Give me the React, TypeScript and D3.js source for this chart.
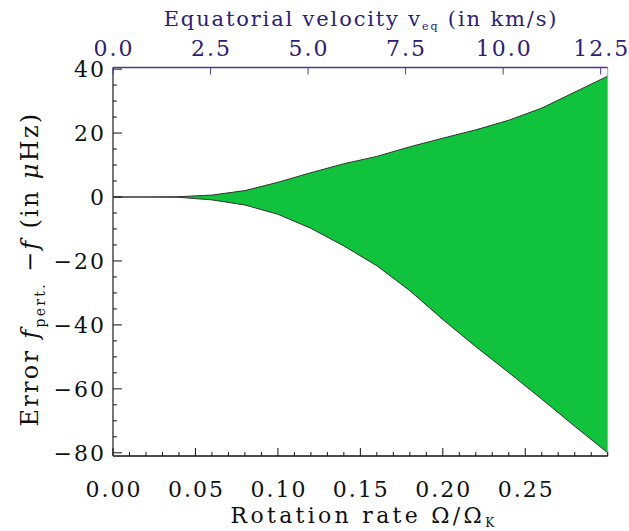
import React, { useEffect, useRef } from "react";
import * as d3 from "d3";

// rotation rate Omega/Omega_K
const rotation = [0, 0.02, 0.04, 0.06, 0.08, 0.1, 0.12, 0.14, 0.16, 0.18, 0.2, 0.22, 0.24, 0.26, 0.28, 0.3];
// error bounds in microHz
const upperErr = [0, 0.0, 0.1, 0.6, 2.0, 4.6, 7.6, 10.4, 12.7, 15.7, 18.4, 21.0, 24.0, 27.8, 32.8, 37.8];
const lowerErr = [0, 0.0, -0.1, -0.9, -2.5, -5.4, -9.8, -15.3, -21.5, -29.3, -38.3, -46.8, -54.9, -63.2, -71.7, -80.0];

const bottomTicks = [0, 0.05, 0.1, 0.15, 0.2, 0.25];
const bottomMinor = d3.range(0, 0.3001, 0.01);
const leftTicks = [-80, -60, -40, -20, 0, 20, 40];
const leftMinor = d3.range(-80, 41, 5);
const topTicks = [0, 2.5, 5, 7.5, 10, 12.5];

const FONT = "'DejaVu Serif', serif";
const PURPLE = "#2e2175";
const NUM_SIZE = 22;
const NUM_LS = 2;

const App = () => {
  const ref = useRef<SVGSVGElement>(null);

  useEffect(() => {
    const width = 629;
    const height = 531;
    const margin = { top: 67.5, left: 113, bottom: 75, right: 21.3 };

    const svg = d3.select(ref.current).attr("width", width).attr("height", height);
    svg.selectAll("*").remove();

    const x = d3.scaleLinear().domain([0, 0.3]).range([margin.left, width - margin.right]);
    const y = d3.scaleLinear().domain([-81, 40.5]).range([height - margin.bottom, margin.top]);
    const xTop = d3.scaleLinear().domain([0, 12.68]).range([margin.left, width - margin.right]);

    const data = rotation.map((r, i) => ({ r, hi: upperErr[i], lo: lowerErr[i] }));

    // filled band
    const area = d3
      .area<any>()
      .x((d) => x(d.r))
      .y0((d) => y(d.lo))
      .y1((d) => y(d.hi));
    svg.append("path").datum(data).attr("d", area).attr("fill", "#10c23c");

    const lineHi = d3.line<any>().x((d) => x(d.r)).y((d) => y(d.hi));
    const lineLo = d3.line<any>().x((d) => x(d.r)).y((d) => y(d.lo));
    svg.append("path").datum(data).attr("d", lineHi).attr("fill", "none").attr("stroke", "#333").attr("stroke-width", 1);
    svg.append("path").datum(data).attr("d", lineLo).attr("fill", "none").attr("stroke", "#333").attr("stroke-width", 1);

    const [x0, x1] = x.range();
    const [yb, yt] = y.range();

    // frame
    svg.append("line").attr("x1", x1).attr("x2", x1).attr("y1", yt).attr("y2", yb).attr("stroke", "#aaa").attr("stroke-width", 1);
    svg.append("line").attr("x1", x0).attr("x2", x1).attr("y1", yt).attr("y2", yt).attr("stroke", "#4a3b8f").attr("stroke-width", 1.5);
    svg.append("line").attr("x1", x0).attr("x2", x1).attr("y1", yb).attr("y2", yb).attr("stroke", "#111").attr("stroke-width", 1.5);
    svg.append("line").attr("x1", x0).attr("x2", x0).attr("y1", yt).attr("y2", yb).attr("stroke", "#777").attr("stroke-width", 2);

    // bottom axis ticks
    const gB = svg.append("g");
    gB.selectAll("line.minor")
      .data(bottomMinor)
      .enter()
      .append("line")
      .attr("x1", (d) => x(d))
      .attr("x2", (d) => x(d))
      .attr("y1", yb)
      .attr("y2", (d) => yb - (bottomTicks.some((t) => Math.abs(t - d) < 1e-6) ? 8 : 4))
      .attr("stroke", "#111");
    gB.selectAll("text")
      .data(bottomTicks)
      .enter()
      .append("text")
      .attr("x", (d) => x(d) + NUM_LS / 2)
      .attr("y", yb + 41)
      .attr("text-anchor", "middle")
      .attr("font-family", FONT)
      .attr("font-size", NUM_SIZE)
      .attr("letter-spacing", NUM_LS)
      .attr("fill", "#111")
      .text((d) => d3.format(".2f")(d));

    // left axis ticks
    const gL = svg.append("g");
    gL.selectAll("line")
      .data(leftMinor)
      .enter()
      .append("line")
      .attr("x1", x0)
      .attr("x2", (d) => x0 + (d % 20 === 0 ? 9 : 4))
      .attr("y1", (d) => y(d))
      .attr("y2", (d) => y(d))
      .attr("stroke", "#111");
    gL.selectAll("text")
      .data(leftTicks)
      .enter()
      .append("text")
      .attr("x", x0 - 9 + NUM_LS)
      .attr("y", (d) => y(d) + 8)
      .attr("text-anchor", "end")
      .attr("font-family", FONT)
      .attr("font-size", NUM_SIZE)
      .attr("letter-spacing", NUM_LS)
      .attr("fill", "#111")
      .text((d) => (d < 0 ? "\u2212" + Math.abs(d) : String(d)));

    // top axis
    const gT = svg.append("g");
    gT.selectAll("line")
      .data(topTicks)
      .enter()
      .append("line")
      .attr("x1", (d) => xTop(d))
      .attr("x2", (d) => xTop(d))
      .attr("y1", yt)
      .attr("y2", yt + 7)
      .attr("stroke", "#4a3b8f");
    gT.selectAll("text")
      .data(topTicks)
      .enter()
      .append("text")
      .attr("x", (d) => xTop(d) + NUM_LS / 2)
      .attr("y", yt - 12)
      .attr("text-anchor", "middle")
      .attr("font-family", FONT)
      .attr("font-size", NUM_SIZE)
      .attr("letter-spacing", NUM_LS)
      .attr("fill", PURPLE)
      .text((d) => d3.format(".1f")(d));

    // titles
    const top = svg
      .append("text")
      .attr("x", 361)
      .attr("y", 26)
      .attr("text-anchor", "middle")
      .attr("font-family", FONT)
      .attr("font-size", 21)
      .attr("letter-spacing", 1.85)
      .attr("fill", PURPLE);
    top.append("tspan").text("Equatorial velocity v");
    top.append("tspan").attr("font-size", 11).attr("dy", 4).text("eq");
    top.append("tspan").attr("dy", -4).text(" (in km/s)");

    const bottom = svg
      .append("text")
      .attr("x", 364)
      .attr("y", 523)
      .attr("text-anchor", "middle")
      .attr("font-family", FONT)
      .attr("font-size", 22)
      .attr("letter-spacing", 3.3)
      .attr("fill", "#111");
    bottom.append("tspan").text("Rotation rate \u03a9/\u03a9");
    bottom.append("tspan").attr("font-size", 12).attr("dy", 4).text("K");

    const left = svg
      .append("text")
      .attr("transform", "translate(38,269) rotate(-90)")
      .attr("text-anchor", "middle")
      .attr("font-family", FONT)
      .attr("font-size", 24)
      .attr("letter-spacing", 2.3)
      .attr("fill", "#111");
    left.append("tspan").text("Error ");
    left.append("tspan").attr("font-style", "italic").text("f");
    left.append("tspan").attr("font-size", 14).attr("dy", 7).text("pert.");
    left.append("tspan").attr("dy", -7).text(" \u2212");
    left.append("tspan").attr("font-style", "italic").text("f");
    left.append("tspan").text(" (in ");
    left.append("tspan").attr("font-style", "italic").text("\u03bc");
    left.append("tspan").text("Hz)");
  }, []);

  return <svg ref={ref} style={{ position: "absolute", left: 0, top: 0 }}></svg>;
};

export default App;
